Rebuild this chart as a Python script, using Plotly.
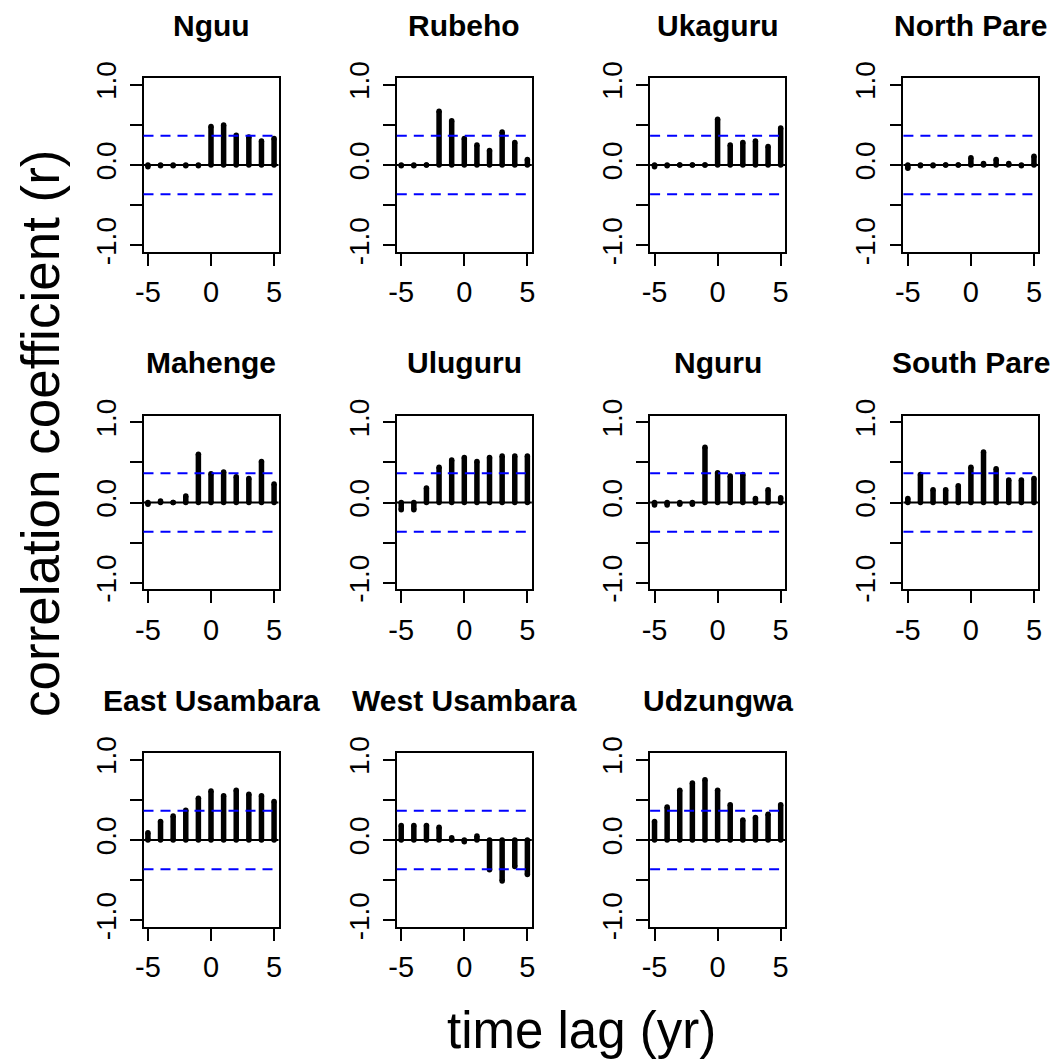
import plotly.graph_objects as go

lags = [-5, -4, -3, -2, -1, 0, 1, 2, 3, 4, 5]
panel_titles = ["Nguu", "Rubeho", "Ukaguru", "North Pare",
                "Mahenge", "Uluguru", "Nguru", "South Pare",
                "East Usambara", "West Usambara", "Udzungwa"]

nguu = [-0.02, -0.01, -0.01, -0.01, -0.01, 0.48, 0.50, 0.37, 0.35, 0.30, 0.33]
rubeho = [-0.01, -0.01, 0.0, 0.67, 0.55, 0.33, 0.25, 0.18, 0.41, 0.28, 0.07]
ukaguru = [-0.02, -0.01, 0.0, 0.0, 0.0, 0.57, 0.25, 0.28, 0.30, 0.23, 0.46]
north_pare = [-0.04, -0.01, -0.01, 0.0, 0.0, 0.09, 0.02, 0.07, 0.02, -0.01, 0.11]
mahenge = [-0.02, 0.02, 0.0, 0.08, 0.60, 0.36, 0.38, 0.32, 0.30, 0.51, 0.23]
uluguru = [-0.09, -0.09, 0.18, 0.44, 0.53, 0.56, 0.51, 0.56, 0.58, 0.58, 0.58]
nguru = [-0.03, -0.03, -0.02, -0.02, 0.69, 0.37, 0.33, 0.35, 0.05, 0.16, 0.06]
south_pare = [0.05, 0.35, 0.16, 0.16, 0.21, 0.44, 0.63, 0.42, 0.28, 0.28, 0.30]
east_usambara = [0.09, 0.23, 0.30, 0.37, 0.52, 0.61, 0.55, 0.62, 0.57, 0.55, 0.48]
west_usambara = [0.18, 0.18, 0.18, 0.16, 0.03, -0.02, 0.05, -0.37, -0.51, -0.33, -0.43]
udzungwa = [0.23, 0.41, 0.62, 0.71, 0.75, 0.62, 0.44, 0.25, 0.28, 0.32, 0.44]

conf_limit = 0.365
x_tick_vals = [-5, 0, 5]
y_tick_vals = [-1.0, -0.5, 0.0, 0.5, 1.0]
y_tick_text = ["-1.0", "", "0.0", "", "1.0"]

series = [nguu, rubeho, ukaguru, north_pare, mahenge, uluguru, nguru,
          south_pare, east_usambara, west_usambara, udzungwa]

W = H = 1059
FONT = "Liberation Sans, Arial, Helvetica, sans-serif"

fig = go.Figure()
layout = dict(width=W, height=H, margin=dict(l=0, r=0, t=0, b=0, autoexpand=False),
              paper_bgcolor="white", plot_bgcolor="white", showlegend=False,
              font=dict(family=FONT, color="black"))
annotations = []
shapes = []

for i, (name, vals) in enumerate(zip(panel_titles, series)):
    r, c = divmod(i, 4)
    left = 143.5 + 253.3 * c
    right = left + 135
    top = 78.3 + 337.5 * r
    bottom = top + 173.5
    xa = "x" if i == 0 else f"x{i+1}"
    ya = "y" if i == 0 else f"y{i+1}"
    xkey = "xaxis" if i == 0 else f"xaxis{i+1}"
    ykey = "yaxis" if i == 0 else f"yaxis{i+1}"

    # stems
    sx, sy = [], []
    for l, v in zip(lags, vals):
        sx += [l, l, None]
        sy += [0, v, None]
    fig.add_trace(go.Scatter(x=sx, y=sy, mode="lines", xaxis=xa, yaxis=ya,
                             line=dict(color="black", width=5.5), hoverinfo="skip"))
    # round caps
    fig.add_trace(go.Scatter(x=lags + lags, y=[0] * len(lags) + vals, mode="markers",
                             xaxis=xa, yaxis=ya,
                             marker=dict(color="black", size=5.5, line=dict(width=0)),
                             hoverinfo="skip"))

    layout[xkey] = dict(domain=[left / W, right / W], range=[-5.35, 5.35],
                        anchor=ya, tickvals=x_tick_vals, ticktext=[str(v) for v in x_tick_vals],
                        ticks="outside", ticklen=12, tickwidth=1.5, tickcolor="black",
                        showline=True, linecolor="black", linewidth=1.5, mirror=True,
                        showgrid=False, zeroline=False, automargin=False,
                        tickfont=dict(size=29, family=FONT, color="black"),
                        ticklabelstandoff=2)
    layout[ykey] = dict(domain=[1 - bottom / H, 1 - top / H], range=[-1.08, 1.08],
                        anchor=xa, tickvals=y_tick_vals, ticktext=y_tick_text,
                        ticks="outside", ticklen=12, tickwidth=1.5, tickcolor="black",
                        showline=True, linecolor="black", linewidth=1.5, mirror=True,
                        showgrid=False, zeroline=False, tickangle=-90, automargin=False,
                        tickfont=dict(size=28, family=FONT, color="black"),
                        ticklabelstandoff=3)

    # zero line and confidence limits
    shapes.append(dict(type="line", xref=f"{xa} domain", yref=ya, x0=0, x1=1, y0=0, y1=0,
                       line=dict(color="black", width=2)))
    for cl in (conf_limit, -conf_limit):
        shapes.append(dict(type="line", xref=f"{xa} domain", yref=ya, x0=0, x1=1,
                           y0=cl, y1=cl, line=dict(color="blue", width=2, dash="10px,7px")))

    annotations.append(dict(text=f"<b>{name}</b>", x=(left + right) / 2 / W,
                            y=1 - (top - 53) / H, xref="paper", yref="paper",
                            xanchor="center", yanchor="middle", showarrow=False,
                            font=dict(size=30, family=FONT, color="black")))

annotations.append(dict(text="correlation coefficient (r)", x=40 / W, y=1 - 433 / H,
                        xref="paper", yref="paper", textangle=-90, showarrow=False,
                        xanchor="center", yanchor="middle",
                        font=dict(size=53, family=FONT, color="black")))
annotations.append(dict(text="time lag (yr)", x=581 / W, y=1 - 1030 / H,
                        xref="paper", yref="paper", showarrow=False,
                        xanchor="center", yanchor="middle",
                        font=dict(size=51, family=FONT, color="black")))

layout["annotations"] = annotations
layout["shapes"] = shapes
fig.update_layout(**layout)
fig.write_html("out.html")
